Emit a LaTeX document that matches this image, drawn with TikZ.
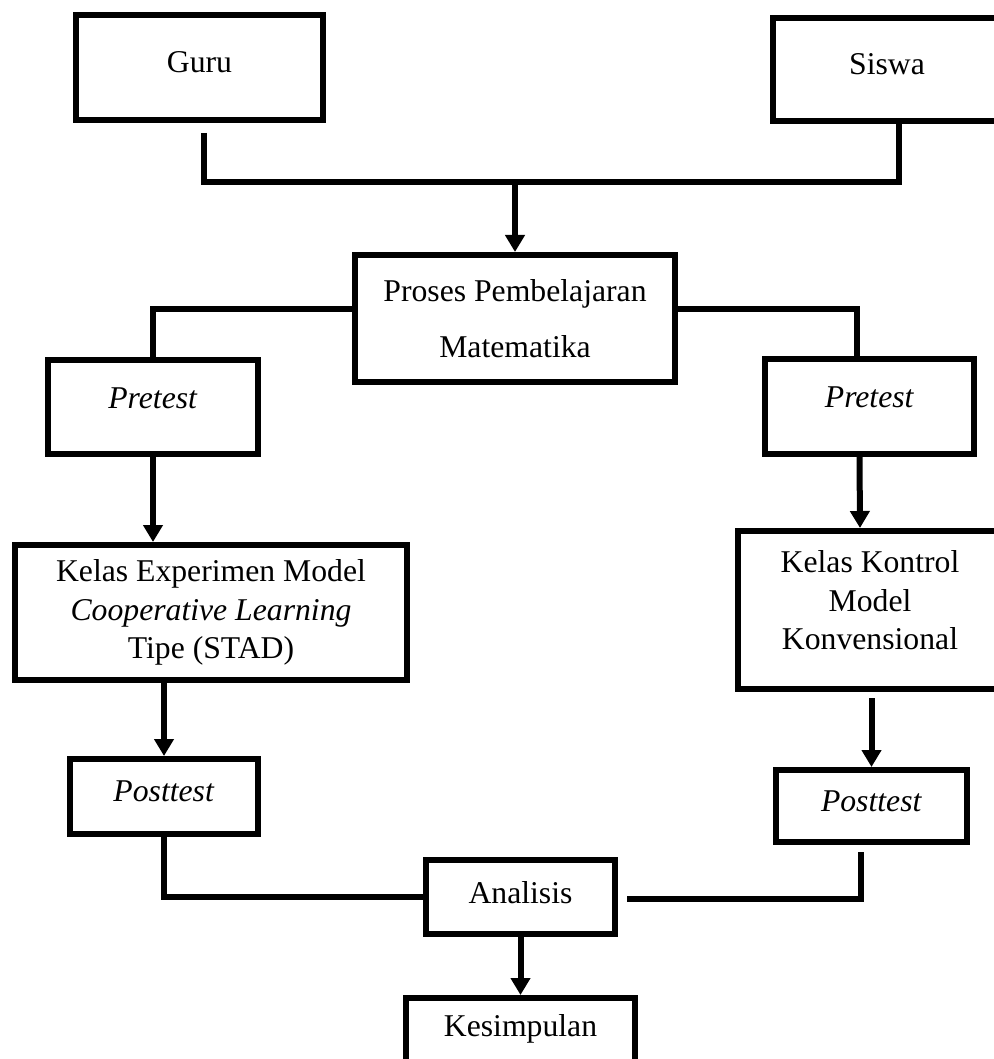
\documentclass[tikz,border=0pt]{standalone}
\usepackage{fontspec}
\setmainfont{Liberation Serif}
\usetikzlibrary{arrows.meta,calc}

\begin{document}
\begin{tikzpicture}[x=1pt, y=-1pt,
    every node/.style={font=\fontsize{31.7}{38.5}\selectfont, align=center},
    kotak/.style={draw, line width=6pt, inner sep=0pt},
    satu/.style={kotak, text depth=10pt},
    garis/.style={line width=6pt},
    panah/.style={line width=6pt, -{Triangle[width=19pt,length=17pt]}}]
  \useasboundingbox (0,0) rectangle (993,1059);
  \node[satu, minimum width=247, minimum height=105] (guru) at (199.5,67.5) {Guru};
  \node[satu, minimum width=228, minimum height=103] (siswa) at (887,69.5) {Siswa};
  \node[kotak, minimum width=320, minimum height=127] (proses) at (515,318.5) {Proses Pembelajaran\\[17.5pt]Matematika};
  \node[kotak, text depth=18pt, minimum width=210, minimum height=94] (pretestL) at (153,407) {\textit{Pretest}};
  \node[kotak, text depth=18pt, minimum width=209, minimum height=95] (pretestR) at (869.5,406.5) {\textit{Pretest}};
  \node[kotak, minimum width=392, minimum height=135] (eksp) at (211,612.5) {Kelas Experimen Model\\\textit{Cooperative Learning}\\Tipe (STAD)};
  \node[kotak, text depth=20pt, minimum width=264, minimum height=158] (kontrol) at (870,610) {Kelas Kontrol\\Model\\Konvensional};
  \node[satu, minimum width=188, minimum height=75] (postL) at (164,796.5) {\textit{Posttest}};
  \node[satu, minimum width=191, minimum height=72] (postR) at (871.5,806) {\textit{Posttest}};
  \node[satu, minimum width=189, minimum height=74] (analisis) at (520.5,897) {Analisis};
  \node[kotak, minimum width=229, inner ysep=16pt, text depth=70pt, anchor=north] (kesimpulan) at (520.5,995) {Kesimpulan};
  \coordinate (temu) at (515,182);

  \draw[garis] ($(guru.south)+(4.5,10)$) |- (temu) -| ($(siswa.south)+(12,0)$);
  \draw[panah] (temu) -- (proses.north);
  \draw[garis] ($(proses.west)+(0,-10)$) -| (pretestL.north);
  \draw[garis] ($(proses.east)+(0,-10)$) -| ($(pretestR.north)+(-13,0)$);
  \draw[panah] (pretestL.south) -- (pretestL.south |- eksp.north);
  \draw[panah] ($(pretestR.south)+(-10,0)$) -- ($(kontrol.north)+(-10,0)$);
  \draw[panah] (postL.north |- eksp.south) -- (postL.north);
  \draw[panah] ($(kontrol.south)+(1.5,6)$) -- (postR.north);
  \draw[garis] (postL.south) |- (analisis.west);
  \draw[garis] ($(postR.south)+(-11,7)$) |- ($(analisis.east)+(9,2)$);
  \draw[panah] (analisis.south) -- (kesimpulan.north);
\end{tikzpicture}
\end{document}
